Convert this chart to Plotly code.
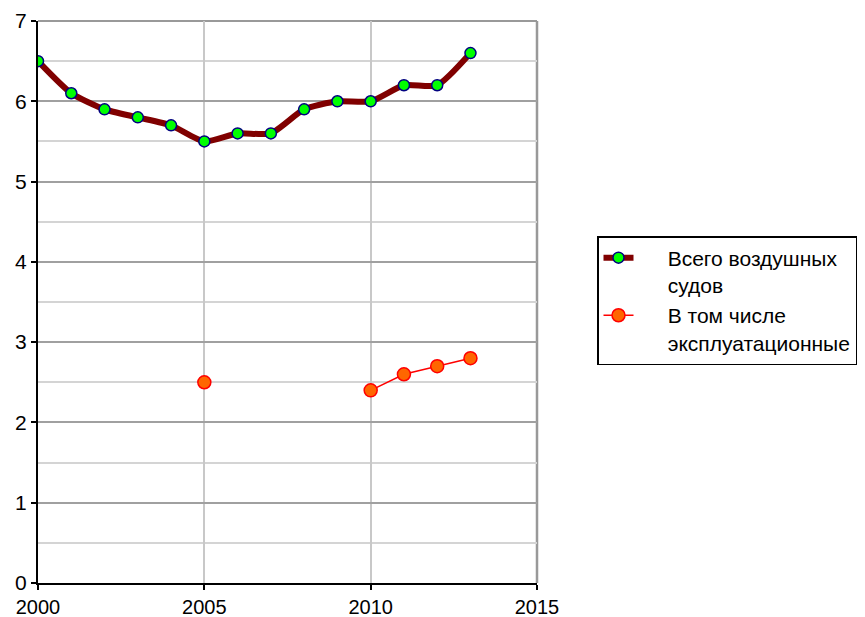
import plotly.graph_objects as go

years = list(range(2000, 2014))
total_aircraft = [6.5, 6.1, 5.9, 5.8, 5.7, 5.5, 5.6, 5.6, 5.9, 6.0, 6.0, 6.2, 6.2, 6.6]
operational = [None, None, None, None, None, 2.5, None, None, None, None, 2.4, 2.6, 2.7, 2.8]

pad = "\u00a0" * 5
name_total = pad + "Всего воздушных<br>" + pad + "судов"
name_oper = pad + "В том числе<br>" + pad + "эксплуатационные"

# page body has an 8px margin; compensate so the plot lands where the reference is
OFF = 8
W, H = 865 - OFF, 617 - OFF
L, R, T, B = 38 - OFF, 328, 21 - OFF, 34
pw = W - L - R
ph = H - T - B

fig = go.Figure()
fig.add_trace(go.Scatter(
    x=years, y=total_aircraft, name=name_total, mode="lines+markers",
    line=dict(color="#800000", width=6, shape="spline", smoothing=0.6),
    marker=dict(size=11, color="#00ff00", line=dict(color="#000080", width=1.5)),
))
fig.add_trace(go.Scatter(
    x=years, y=operational, name=name_oper, mode="lines+markers",
    connectgaps=False,
    line=dict(color="#ff0000", width=1.5),
    marker=dict(size=13, color="#ff6600", line=dict(color="#ff0000", width=1.5)),
))

font = dict(family="Arial, Liberation Sans, sans-serif", size=21, color="black")
xfont = dict(family="Arial, Liberation Sans, sans-serif", size=20, color="black")

fig.update_layout(
    width=W, height=H,
    margin=dict(l=L, r=R, t=T, b=B, autoexpand=False),
    paper_bgcolor="white", plot_bgcolor="white",
    font=font,
    showlegend=True,
    legend=dict(
        x=(597 - 38) / pw, xanchor="left",
        y=(583 - 236) / ph, yanchor="top",
        bordercolor="black", borderwidth=1.5, bgcolor="white",
        valign="top", font=font, tracegroupgap=0,
    ),
    shapes=[
        dict(type="line", xref="paper", yref="paper", x0=0, x1=1, y0=1, y1=1,
             line=dict(color="#999999", width=2), layer="below"),
        dict(type="line", xref="paper", yref="paper", x0=1, x1=1, y0=0, y1=1,
             line=dict(color="#999999", width=2.5), layer="below"),
    ],
)

fig.update_xaxes(
    range=[2000, 2015], tickmode="linear", tick0=2000, dtick=5,
    showgrid=True, gridcolor="#c8c8c8", gridwidth=2,
    showline=True, linecolor="black", linewidth=2,
    ticks="outside", ticklen=5, tickwidth=1.5, tickcolor="black",
    zeroline=False, tickfont=xfont,
)
fig.update_yaxes(
    range=[0, 7], tickmode="linear", tick0=0, dtick=1,
    showgrid=True, gridcolor="#a0a0a0", gridwidth=2,
    minor=dict(dtick=0.5, showgrid=True, gridcolor="#d4d4d4", gridwidth=2, ticks=""),
    showline=True, linecolor="black", linewidth=2,
    ticks="outside", ticklen=5, tickwidth=1.5, tickcolor="black",
    zeroline=False, tickfont=font,
)

fig.write_html("out.html")
